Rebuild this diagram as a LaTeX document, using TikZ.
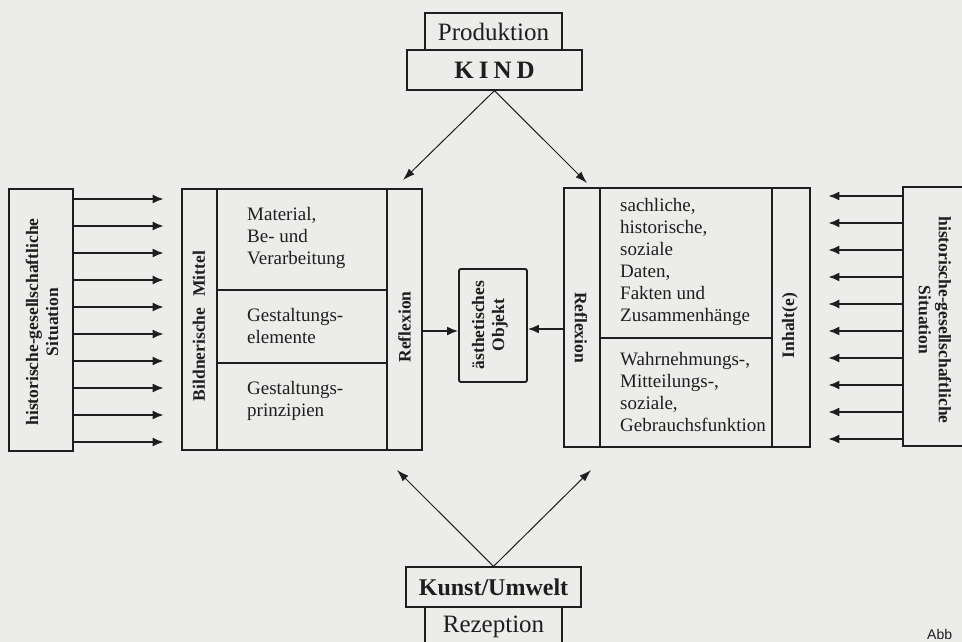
\documentclass[tikz,border=0pt]{standalone}
\usepackage{fontspec}
\setmainfont{Liberation Serif}
\newfontfamily\abbfont{Liberation Sans}
\usetikzlibrary{arrows.meta}

\definecolor{papier}{RGB}{236,236,234}
\definecolor{tinte}{RGB}{30,30,30}

\tikzset{
  blk/.style={draw=tinte, line width=1.2pt, inner sep=0pt, text=tinte},
  txt/.style={text=tinte, align=left, inner sep=0pt, font=\fontsize{19}{22}\selectfont},
  vlab/.style={text=tinte, align=center, inner sep=0pt, font=\fontsize{17.5}{20}\selectfont\bfseries},
  pfeil/.style={draw=tinte, line width=1.6pt, -{Latex[length=11pt,width=9pt]}},
  schraeg/.style={draw=tinte, line width=1pt, -{Latex[length=12pt,width=8pt]}},
}

\begin{document}
\begin{tikzpicture}[x=1pt,y=-1pt]
  \clip (0,0) rectangle (962,642);
  \fill[papier] (0,0) rectangle (962,642);
  % Kopf
  \node[blk, minimum width=137, minimum height=37, font=\fontsize{25}{28}\selectfont] (prod) at (493.5,31.5) {Produktion};
  \node[blk, minimum width=175, minimum height=40, font=\fontsize{25}{28}\selectfont\bfseries] (kind) at (494.5,70) {K\hspace{5pt}I\hspace{5pt}N\hspace{5pt}D};
  % Fuss
  \node[blk, minimum width=175, minimum height=40, font=\fontsize{24}{27}\selectfont\bfseries] (kunst) at (493.5,587) {Kunst/Umwelt};
  \node[blk, minimum width=137, minimum height=40, font=\fontsize{25}{28}\selectfont] (rez) at (493.5,627) {Rezeption};
  % Situation links und rechts
  \node[blk, minimum width=64, minimum height=262] (sitL) at (41,320) {};
  \node[vlab, rotate=90] (sitLlab) at (42,322) {historische-gesellschaftliche\\Situation};
  \node[blk, minimum width=64, minimum height=259] (sitR) at (935,316.5) {};
  \node[vlab, rotate=-90] (sitRlab) at (935,320) {historische-gesellschaftliche\\Situation};
  % Bildnerische Mittel
  \node[blk, minimum width=240, minimum height=261] (mittel) at (302,319.5) {};
  \draw[blk] (217,189) -- (217,450) (387,189) -- (387,450);
  \draw[blk] (217,290) -- (387,290) (217,363) -- (387,363);
  \node[vlab, rotate=90] (bildlab) at (199,326) {Bildnerische\hspace{11pt}Mittel};
  \node[vlab, rotate=90] (reflL) at (404.5,327) {Reflexion};
  \node[txt, anchor=west] (mat) at (247,238) {Material,\\Be- und\\Verarbeitung};
  \node[txt, anchor=west] (elem) at (247,326) {Gestaltungs-\\elemente};
  \node[txt, anchor=west] (prinz) at (247,401) {Gestaltungs-\\prinzipien};
  % Inhalt(e)
  \node[blk, minimum width=246, minimum height=259] (inhalt) at (687,317.5) {};
  \draw[blk] (600,188) -- (600,447) (772,188) -- (772,447);
  \draw[blk] (600,338) -- (772,338);
  \node[vlab, rotate=-90] (reflR) at (581,327.5) {Reflexion};
  \node[vlab, rotate=90] (inhlab) at (790,325.5) {Inhalt(e)};
  \node[txt, anchor=west] (daten) at (620,262) {sachliche,\\historische,\\soziale\\Daten,\\Fakten und\\Zusammenh\"ange};
  \node[txt, anchor=west] (funkt) at (620,391.5) {Wahrnehmungs-,\\Mitteilungs-,\\soziale,\\Gebrauchsfunktion};
  % Objekt in der Mitte
  \node[blk, line width=1.9pt, rounded corners=2pt, minimum width=68, minimum height=113] (objekt) at (493,325.5) {};
  \node[vlab, rotate=90] (objlab) at (490,325) {\"asthetisches\\Objekt};
  % Pfeile
  \foreach \y in {199,226,...,442} {
    \draw[pfeil] (sitL.east |- 0,\y) -- ++(90,0);
  }
  \foreach \y in {196,223,...,439} {
    \draw[pfeil] (sitR.west |- 0,\y) -- ++(-74,0);
  }
  \draw[pfeil] (mittel.east |- 0,331) -- (objekt.west |- 0,331);
  \draw[pfeil] (inhalt.west |- 0,329) -- (objekt.east |- 0,329);
  \coordinate (zielL) at (403,180);
  \coordinate (zielR) at (587,183);
  \coordinate (quelleL) at (397,470);
  \coordinate (quelleR) at (591,470);
  \draw[schraeg] (kind.south) -- (zielL);
  \draw[schraeg] (kind.south) -- (zielR);
  \draw[schraeg] (kunst.north) -- (quelleL);
  \draw[schraeg] (kunst.north) -- (quelleR);
  \node[anchor=base west, inner sep=0pt, text=tinte, font=\abbfont\fontsize{14}{16}\selectfont] (abb) at (927,639) {Abb};
\end{tikzpicture}
\end{document}
